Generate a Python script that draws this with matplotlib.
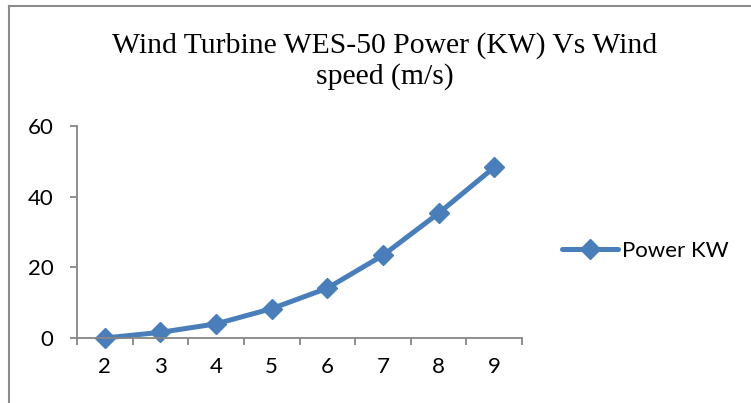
import matplotlib
matplotlib.use("Agg")
import matplotlib.pyplot as plt
from matplotlib.lines import Line2D

wind_speed = ["2", "3", "4", "5", "6", "7", "8", "9"]
power_kw = [0.0, 1.6, 4.0, 8.3, 14.1, 23.4, 35.3, 48.3]
y_ticks = [0, 20, 40, 60]
series_name = "Power KW"
title = "Wind Turbine WES-50 Power (KW) Vs Wind\nspeed (m/s)"

W, H = 751, 403
fig = plt.figure(figsize=(W / 100, H / 100), dpi=100)
fig.patch.set_facecolor("white")

# outer chart border (cropped at right and bottom)
border = "#8c8c8c"
fig.add_artist(Line2D([8.5 / W, 8.5 / W], [0, 1 - 5.5 / H], transform=fig.transFigure,
                      color=border, lw=1.5, clip_on=False))
fig.add_artist(Line2D([8.5 / W, 1], [1 - 5.5 / H, 1 - 5.5 / H], transform=fig.transFigure,
                      color=border, lw=1.5, clip_on=False))

ax = fig.add_axes([77 / W, (H - 338) / H, (522 - 77) / W, (338 - 126) / H])
blue = "#4A7EBB"
x = list(range(len(wind_speed)))
ax.plot(x, power_kw, color=blue, lw=3.6, marker="D", markersize=10.5,
        markerfacecolor=blue, markeredgecolor=blue, label=series_name,
        clip_on=False, solid_capstyle="round", solid_joinstyle="round")

ax.set_xlim(-0.5, len(wind_speed) - 0.5)
ax.set_ylim(0, 60)
ax.set_yticks(y_ticks)
ax.set_xticks(x)
ax.set_xticklabels(wind_speed)
ax.set_xticks([i - 0.5 for i in range(len(wind_speed) + 1)], minor=True)

fs = 16
for lab in ax.get_xticklabels() + ax.get_yticklabels():
    lab.set_fontfamily("Lato")
    lab.set_fontsize(fs)

gray = "#868686"
for s in ["top", "right"]:
    ax.spines[s].set_visible(False)
for s in ["left", "bottom"]:
    ax.spines[s].set_color(gray)
    ax.spines[s].set_linewidth(1.3)

ax.tick_params(axis="y", direction="out", length=5, width=1.3, color=gray, pad=12)
ax.tick_params(axis="x", which="major", length=0, pad=14)
ax.tick_params(axis="x", which="minor", direction="out", length=5, width=1.3, color=gray)

fig.text(385 / W, 1 - 61 / H, title, ha="center", va="center",
         family="Liberation Serif", fontsize=21.3, linespacing=1.18)

leg = ax.legend(loc="center left", bbox_to_anchor=(562 / W, 1 - 251 / H),
                bbox_transform=fig.transFigure, frameon=False,
                prop=dict(family="Lato", size=fs), handlelength=2.5,
                handletextpad=0.2, borderpad=0, borderaxespad=0)

fig.savefig("out.png", dpi=100)
